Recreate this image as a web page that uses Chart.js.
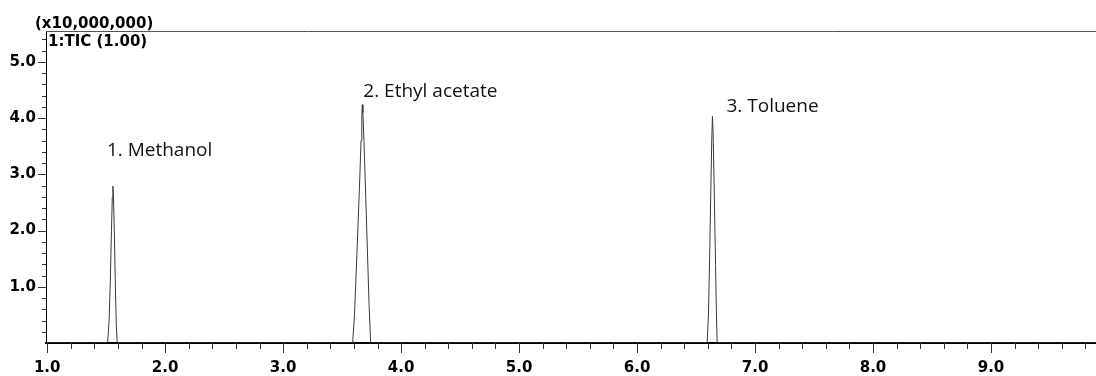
<!DOCTYPE html>
<html>
<head>
<meta charset="utf-8">
<script src="https://cdn.jsdelivr.net/npm/chart.js@4/dist/chart.umd.min.js"></script>
<style>
  html, body { margin: 0; padding: 0; background: #fff; }
  #wrap { width: 1096px; height: 376px; position: relative; }
</style>
</head>
<body>
<div id="wrap"><canvas id="c"></canvas></div>
<script>
// Retention time (min) and TIC intensity (x10,000,000)
const retentionTime = [
  0.99, 1.512, 1.525, 1.535, 1.545, 1.552, 1.557, 1.562, 1.570, 1.578, 1.586, 1.594,
  3.589, 3.605, 3.620, 3.635, 3.650, 3.660, 3.667, 3.671, 3.676, 3.685, 3.700, 3.715, 3.728, 3.742,
  6.594, 6.605, 6.615, 6.625, 6.633, 6.639, 6.645, 6.655, 6.665, 6.672, 6.679,
  9.89
];
const intensity = [
  0, 0, 0.4, 1.1, 2.0, 2.6, 2.79, 2.6, 1.9, 1.0, 0.3, 0,
  0, 0.5, 1.3, 2.1, 2.95, 3.6, 4.05, 4.24, 4.1, 3.6, 2.6, 1.6, 0.7, 0,
  0, 0.5, 1.5, 2.7, 3.6, 4.03, 3.7, 2.6, 1.4, 0.6, 0,
  0
];
const peakNames = ['1. Methanol', '2. Ethyl acetate', '3. Toluene'];
const peakTimes = [1.557, 3.671, 6.639];
const peakHeights = [2.79, 4.24, 4.03];

const xMajorTicks = [1, 2, 3, 4, 5, 6, 7, 8, 9];
const xMinorTicks = [1.2,1.4,1.6,1.8,2.2,2.4,2.6,2.8,3.2,3.4,3.6,3.8,4.2,4.4,4.6,4.8,5.2,5.4,5.6,5.8,6.2,6.4,6.6,6.8,7.2,7.4,7.6,7.8,8.2,8.4,8.6,8.8,9.2,9.4,9.6,9.8];
const yMajorTicks = [1, 2, 3, 4, 5];
const yMinorTicks = [0.2,0.4,0.6,0.8,1.2,1.4,1.6,1.8,2.2,2.4,2.6,2.8,3.2,3.4,3.6,3.8,4.2,4.4,4.6,4.8,5.2,5.4];
const yUnitLabel = '(x10,000,000)';
const traceLabel = '1:TIC (1.00)';

const points = retentionTime.map((t, i) => ({ x: t, y: intensity[i] }));

const axisFont = { family: 'DejaVu Sans', size: 15, weight: 'bold' };

const decorPlugin = {
  id: 'decor',
  afterDraw(chart, args, opts) {
    const ctx = chart.ctx;
    const ca = chart.chartArea;
    const xs = chart.scales.x, ys = chart.scales.y;
    ctx.save();
    // top border
    ctx.strokeStyle = '#555';
    ctx.lineWidth = 1;
    ctx.beginPath();
    ctx.moveTo(ca.left, ca.top + 0.5);
    ctx.lineTo(chart.width, ca.top + 0.5);
    ctx.stroke();
    // tick marks
    ctx.strokeStyle = '#333';
    ctx.beginPath();
    xMajorTicks.forEach(v => {
      const px = Math.round(xs.getPixelForValue(v)) + 0.5;
      ctx.moveTo(px, ca.bottom); ctx.lineTo(px, ca.bottom + 10);
    });
    xMinorTicks.forEach(v => {
      const px = Math.round(xs.getPixelForValue(v)) + 0.5;
      ctx.moveTo(px, ca.bottom); ctx.lineTo(px, ca.bottom + 6);
    });
    yMajorTicks.forEach(v => {
      const py = Math.round(ys.getPixelForValue(v)) + 0.5;
      ctx.moveTo(ca.left, py); ctx.lineTo(ca.left - 8, py);
    });
    yMinorTicks.forEach(v => {
      const py = Math.round(ys.getPixelForValue(v)) + 0.5;
      ctx.moveTo(ca.left, py); ctx.lineTo(ca.left - 4, py);
    });
    ctx.stroke();
    // header texts
    ctx.fillStyle = '#000';
    ctx.font = 'bold 15px "DejaVu Sans"';
    ctx.textBaseline = 'alphabetic';
    ctx.textAlign = 'left';
    ctx.fillText(yUnitLabel, 35, 28);
    ctx.fillText(traceLabel, ca.left + 2, ca.top + 15);
    // peak labels
    ctx.font = '19px "Open Sans"';
    ctx.fillStyle = '#111';
    peakNames.forEach((name, i) => {
      const px = xs.getPixelForValue(peakTimes[i]);
      const py = ys.getPixelForValue(peakHeights[i]);
      const off = opts.offsets[i];
      ctx.fillText(name, px + off[0], py + off[1]);
    });
    ctx.restore();
  }
};

new Chart(document.getElementById('c'), {
  type: 'line',
  data: {
    datasets: [{
      data: points,
      borderColor: '#3a3a3a',
      borderWidth: 1,
      pointRadius: 0,
      tension: 0,
      fill: false
    }]
  },
  options: {
    responsive: true,
    maintainAspectRatio: false,
    animation: false,
    layout: { padding: { top: 31, right: 0, left: 0, bottom: 0 } },
    plugins: {
      legend: { display: false },
      tooltip: { enabled: false },
      decor: { offsets: [[-6, -30], [1, -8], [14, -4]] }
    },
    scales: {
      x: {
        type: 'linear',
        min: 0.99,
        max: 9.89,
        afterBuildTicks: s => { s.ticks = xMajorTicks.map(v => ({ value: v })); },
        afterFit: s => { s.height = 33; },
        ticks: {
          callback: v => Number(v).toFixed(1),
          font: axisFont,
          color: '#000',
          padding: 16,
          maxRotation: 0,
          autoSkip: false
        },
        grid: { display: false, drawTicks: false },
        border: { display: true, color: '#000', width: 2 }
      },
      y: {
        type: 'linear',
        min: 0,
        max: 5.55,
        afterBuildTicks: s => { s.ticks = yMajorTicks.map(v => ({ value: v })); },
        afterFit: s => { s.width = 46; },
        ticks: {
          callback: v => Number(v).toFixed(1),
          font: axisFont,
          color: '#000',
          padding: 10,
          autoSkip: false
        },
        grid: { display: false, drawTicks: false },
        border: { display: true, color: '#000', width: 1 }
      }
    }
  },
  plugins: [decorPlugin]
});
</script>
</body>
</html>
